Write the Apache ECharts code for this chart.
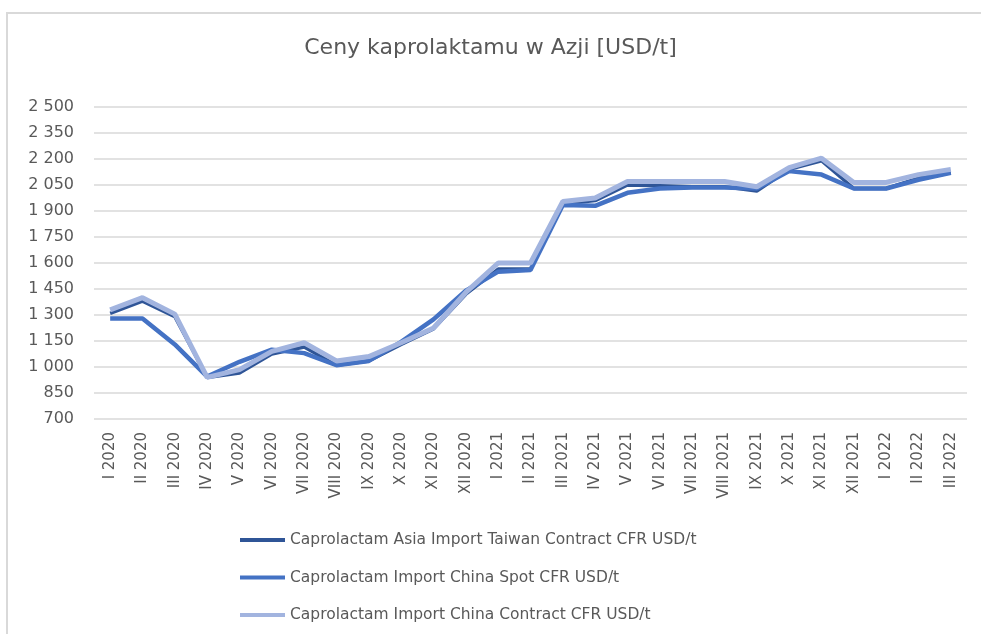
<!DOCTYPE html>
<html>
<head>
<meta charset="utf-8">
<script src="https://cdn.jsdelivr.net/npm/echarts@6/dist/echarts.min.js"></script>
<style>
	html,body{
		margin:0px;
		padding:0px;
		background:#fff;
	}
	#echart1{
		width:981px;
		height:634px;
	}
</style>
</head>
<body>
<div id="echart1"></div>
<script>
	// 数据
	var months = ['I 2020','II 2020','III 2020','IV 2020','V 2020','VI 2020','VII 2020','VIII 2020','IX 2020','X 2020','XI 2020','XII 2020',
		'I 2021','II 2021','III 2021','IV 2021','V 2021','VI 2021','VII 2021','VIII 2021','IX 2021','X 2021','XI 2021','XII 2021',
		'I 2022','II 2022','III 2022'];
	var taiwanContract = [1310,1380,1290,940,965,1075,1115,1010,1035,1130,1220,1420,1565,1565,1940,1960,2050,2045,2040,2040,2015,2140,2190,2030,2030,2090,2120];
	var chinaSpot = [1280,1280,1130,945,1030,1100,1080,1010,1035,1145,1275,1440,1550,1560,1935,1930,2005,2030,2035,2035,2030,2130,2110,2030,2030,2080,2120];
	var chinaContract = [1330,1400,1305,940,985,1090,1140,1035,1060,1140,1225,1430,1600,1600,1955,1975,2070,2070,2070,2070,2040,2150,2205,2065,2065,2110,2140];
	var names = ['Caprolactam Asia Import Taiwan Contract CFR USD/t','Caprolactam Import China Spot CFR USD/t','Caprolactam Import China Contract CFR USD/t'];

	var font = 'DejaVu Sans';
	var myChart = echarts.init(document.getElementById('echart1'));
	var option = {
		animation:false,
		color:['#2F5597','#4472C4','#A2B4DF'],
		title:{
			text:'Ceny kaprolaktamu w Azji [USD/t]',
			left:'center',
			top:32,
			textStyle:{color:'#595959',fontSize:22,fontWeight:'normal',fontFamily:font}
		},
		// ramka wykresu (tylko góra i lewa strona)
		graphic:[{
			type:'polyline',
			shape:{points:[[7,640],[7,13],[990,13]]},
			style:{fill:'none',stroke:'#d9d9d9',lineWidth:2}
		}],
		grid:{
			left:94,
			right:14,
			top:107,
			bottom:215
		},
		legend:{
			orient:'vertical',
			left:235,
			top:527,
			itemGap:21.5,
			itemWidth:45,
			itemHeight:4,
			icon:'rect',
			textStyle:{color:'#595959',fontSize:15.5,fontFamily:font},
			data:names
		},
		xAxis:{
			type:'category',
			boundaryGap:true,
			data:months,
			axisLine:{show:false},
			axisTick:{show:false},
			axisLabel:{
				interval:0,
				rotate:90,
				margin:13,
				color:'#595959',
				fontSize:15,
				fontFamily:font
			}
		},
		yAxis:{
			type:'value',
			min:700,
			max:2500,
			interval:150,
			axisLine:{show:false},
			axisTick:{show:false},
			splitLine:{lineStyle:{color:'#d9d9d9',width:1.5}},
			axisLabel:{
				margin:20,
				color:'#595959',
				fontSize:16,
				fontFamily:font,
				formatter:function(v){
					return String(v).replace(/\B(?=(\d{3})+(?!\d))/g,' ');
				}
			}
		},
		series:[{
			name:names[0],
			type:'line',
			symbol:'none',
			lineStyle:{width:3.5},
			data:taiwanContract
		},{
			name:names[1],
			type:'line',
			symbol:'none',
			lineStyle:{width:4.5},
			data:chinaSpot
		},{
			name:names[2],
			type:'line',
			symbol:'none',
			lineStyle:{width:5},
			data:chinaContract
		}]
	};
	myChart.setOption(option);
</script>
</body>
</html>
